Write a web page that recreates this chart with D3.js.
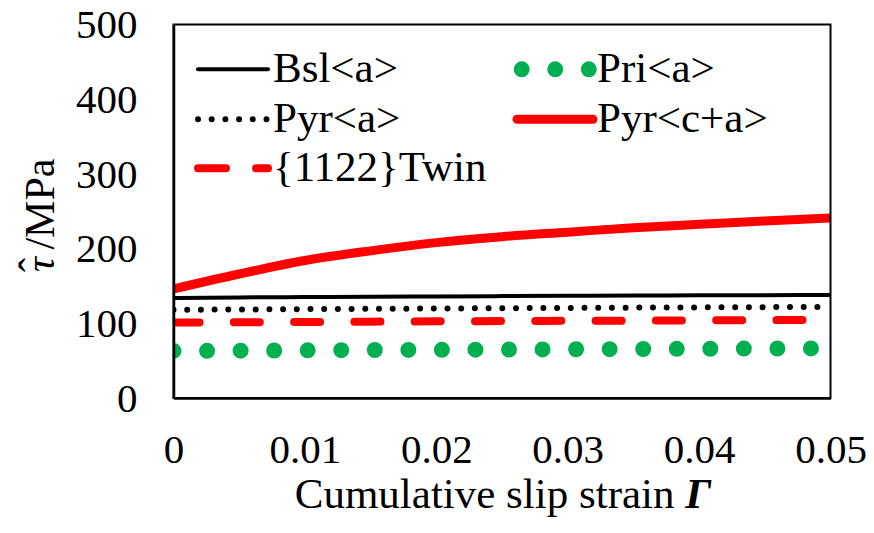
<!DOCTYPE html>
<html>
<head>
<meta charset="utf-8">
<script src="https://cdn.jsdelivr.net/npm/d3@7"></script>
<style>
  body { margin: 0; background: #fff; }
</style>
</head>
<body>
<svg class="chart" width="874" height="533"></svg>
<script>
// cumulative slip strain values (x)
var gammas = [0, 0.005, 0.01, 0.015, 0.02, 0.025, 0.03, 0.035, 0.04, 0.045, 0.05];
// CRSS of each mode, MPa
var bsl = [134, 134.6, 135.1, 135.6, 136.0, 136.4, 136.8, 137.1, 137.4, 137.7, 138];
var pri = [63, 63.4, 63.8, 64.2, 64.5, 64.9, 65.2, 65.5, 65.9, 66.2, 66.5];
var pyrA = [118, 118.5, 119, 119.4, 119.8, 120.2, 120.6, 121, 121.3, 121.6, 122];
var pyrCA = [146, 166, 184, 197, 208, 216, 222, 228, 232.5, 237, 241];
var twin = [101, 101.4, 101.8, 102.2, 102.6, 103, 103.3, 103.6, 103.9, 104.2, 104.5];

var xTicks = [0, 0.01, 0.02, 0.03, 0.04, 0.05];
var yTicks = [0, 100, 200, 300, 400, 500];

var FONT = "'Liberation Serif', 'Times New Roman', serif";
var svg = d3.select(".chart");
var pLeft = 173.5, pTop = 24.5, pRight = 830.5, pBottom = 398;

var xScale = d3.scaleLinear().domain([0, 0.05]).range([pLeft, pRight]);
var yScale = d3.scaleLinear().domain([0, 500]).range([pBottom, pTop]);

svg.append("defs").append("clipPath").attr("id", "plotclip")
    .append("rect")
    .attr("x", pLeft).attr("y", pTop)
    .attr("width", pRight - pLeft).attr("height", pBottom - pTop);

// series styles
var series = [
    { name: "Pri<a>", values: pri, color: "#00b050", width: 16, dash: "0 33.55", cap: "round" },
    { name: "{1122}Twin", values: twin, color: "#ff0000", width: 8, dash: "26 34.3", cap: "round" },
    { name: "Pyr<a>", values: pyrA, color: "#000", width: 6, dash: "0 13.7", cap: "round" },
    { name: "Bsl<a>", values: bsl, color: "#000", width: 4, dash: null, cap: "butt" },
    { name: "Pyr<c+a>", values: pyrCA, color: "#ff0000", width: 9, dash: null, cap: "butt" }
];

var line = d3.line()
    .x(function(d, i) { return xScale(gammas[i]); })
    .y(function(d) { return yScale(d); })
    .curve(d3.curveMonotoneX);

var plot = svg.append("g").attr("clip-path", "url(#plotclip)");
series.forEach(function(s) {
    plot.append("path")
        .attr("d", line(s.values))
        .attr("fill", "none")
        .attr("stroke", s.color)
        .attr("stroke-width", s.width)
        .attr("stroke-linecap", s.cap)
        .attr("stroke-dasharray", s.dash);
});

// frame
svg.append("rect")
    .attr("x", pLeft).attr("y", pTop)
    .attr("width", pRight - pLeft).attr("height", pBottom - pTop)
    .attr("fill", "none").attr("stroke", "#000").attr("stroke-width", 2);

var yAxis = svg.append("g")
    .attr("transform", "translate(" + pLeft + ",0)")
    .call(d3.axisLeft(yScale).tickValues(yTicks).tickSize(0).tickPadding(36));
yAxis.select(".domain").attr("stroke-width", 2.5);

var xAxis = svg.append("g")
    .attr("transform", "translate(0," + pBottom + ")")
    .call(d3.axisBottom(xScale).tickValues(xTicks).tickSize(0).tickPadding(36)
        .tickFormat(function(d) { return d === 0 ? "0" : d3.format(".2f")(d); }));
xAxis.select(".domain").attr("stroke-width", 2.5);

svg.selectAll(".tick text")
    .style("font-family", FONT)
    .style("font-size", "41px")
    .attr("fill", "#000");

// axis titles
var xt = svg.append("text")
    .attr("x", (pLeft + pRight) / 2 + 1)
    .attr("y", 508)
    .attr("text-anchor", "middle")
    .style("font-family", FONT)
    .style("font-size", "43px");
xt.append("tspan").text("Cumulative slip strain ");
xt.append("tspan").style("font-style", "italic").style("font-weight", "bold").text("\u0393");

// y title: tau with a hat drawn as its own glyph above it
var yt = svg.append("text")
    .attr("transform", "translate(54," + ((pTop + pBottom) / 2 + 4) + ") rotate(-90)")
    .attr("text-anchor", "middle")
    .style("font-family", FONT)
    .style("font-size", "42px");
yt.append("tspan").style("font-style", "italic").text("\u03c4");
yt.append("tspan").attr("dx", "-0.36em").attr("dy", "-0.14em").text("\u02c6");
yt.append("tspan").attr("dx", "-0.05em").attr("dy", "0.14em").text(" /MPa");

// legend
var legend = [
    { s: series[3], x: 198, y: 69.3, len: 70 },
    { s: series[0], x: 521.7, y: 69.3, len: 67.2 },
    { s: series[2], x: 198, y: 119.3, len: 70 },
    { s: series[4], x: 517, y: 119.3, len: 76 },
    { s: series[1], x: 198, y: 168.3, len: 70 }
];
legend.forEach(function(l) {
    svg.append("path")
        .attr("d", d3.line()([[l.x, l.y], [l.x + l.len, l.y]]))
        .attr("fill", "none")
        .attr("stroke", l.s.color)
        .attr("stroke-width", l.s.width)
        .attr("stroke-linecap", "round")
        .attr("stroke-dasharray", l.s.name === "{1122}Twin" ? "28 30" : l.s.dash);
    svg.append("text")
        .attr("x", l.x < 400 ? 273 : 597)
        .attr("y", l.y + 13)
        .style("font-family", FONT)
        .style("font-size", "43px")
        .text(l.s.name);
});
</script>
</body>
</html>
